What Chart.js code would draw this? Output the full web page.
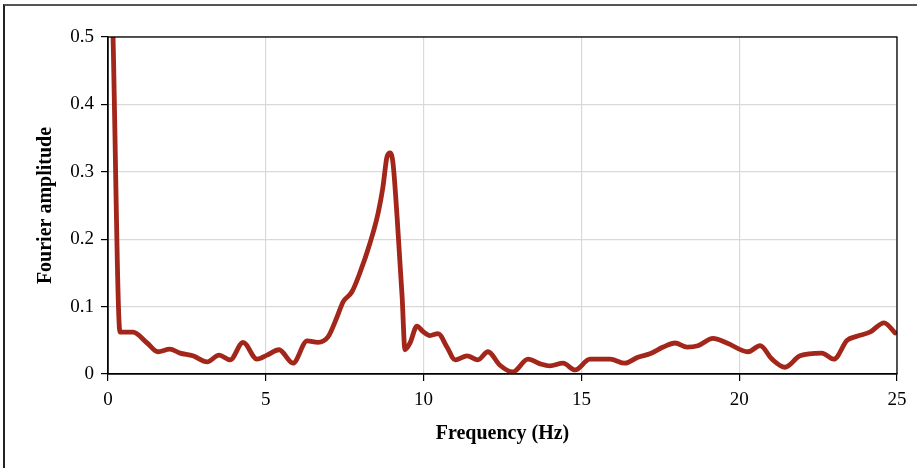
<!DOCTYPE html>
<html>
<head>
<meta charset="utf-8">
<script src="https://cdn.jsdelivr.net/npm/chart.js@4"></script>
<style>
  html, body { margin: 0; padding: 0; background: #fff; }
  #wrap { position: relative; width: 917px; height: 468px; }
  #frame { position: absolute; left: 3px; top: 4px; right: -10px; bottom: -10px;
           border-top: 2px solid #555; border-left: 2px solid #222; pointer-events: none; }
</style>
</head>
<body>
<div id="wrap">
  <canvas id="spectrum" width="917" height="468"></canvas>
  <div id="frame"></div>
</div>
<script>
const freq = [0.16, 0.38, 0.79, 1.24, 1.58, 1.96, 2.28, 2.69, 3.14, 3.52, 3.87, 4.28, 4.72, 5.04, 5.42, 5.86,
  6.31, 6.65, 6.97, 7.26, 7.45, 7.73, 7.98, 8.30, 8.56, 8.71, 8.84, 8.94, 9.03, 9.16, 9.32, 9.41, 9.57,
  9.79, 9.98, 10.2, 10.46, 10.74, 11.0, 11.38, 11.72, 12.04, 12.42, 12.83, 13.31, 13.69, 14.0, 14.42,
  14.8, 15.27, 15.91, 16.38, 16.79, 17.17, 17.59, 17.97, 18.35, 18.69, 19.17, 19.61, 20.28, 20.66,
  21.04, 21.45, 21.93, 22.62, 23.0, 23.42, 23.73, 24.14, 24.59, 24.94];
const amplitude = [0.50, 0.062, 0.062, 0.046, 0.033, 0.037, 0.031, 0.027, 0.018, 0.028, 0.021, 0.047, 0.022, 0.028, 0.036, 0.016,
  0.049, 0.047, 0.055, 0.085, 0.107, 0.122, 0.150, 0.194, 0.239, 0.277, 0.322, 0.328, 0.313, 0.233, 0.114, 0.036, 0.046,
  0.071, 0.063, 0.057, 0.060, 0.040, 0.021, 0.027, 0.021, 0.033, 0.013, 0.003, 0.022, 0.015, 0.012, 0.016,
  0.006, 0.022, 0.022, 0.016, 0.025, 0.030, 0.040, 0.046, 0.040, 0.042, 0.053, 0.046, 0.033, 0.042,
  0.022, 0.010, 0.027, 0.031, 0.022, 0.050, 0.056, 0.062, 0.076, 0.061];
const xTicks = [0, 5, 10, 15, 20, 25];
const yTicks = [0, 0.1, 0.2, 0.3, 0.4, 0.5];

const serif = "'Liberation Serif', 'DejaVu Serif', serif";

// closes the plot box (top and right edges)
const boxBorder = {
  id: 'boxBorder',
  afterDraw(chart) {
    const a = chart.chartArea, ctx = chart.ctx;
    ctx.save();
    ctx.strokeStyle = '#000';
    ctx.lineWidth = 1.3;
    ctx.strokeRect(a.left, a.top, a.right - a.left, a.bottom - a.top);
    ctx.restore();
  }
};

new Chart(document.getElementById('spectrum'), {
  type: 'line',
  data: {
    datasets: [{
      data: freq.map((f, i) => ({ x: f, y: amplitude[i] })),
      borderColor: '#a3261b',
      borderWidth: 4.8,
      pointRadius: 0,
      fill: false,
      cubicInterpolationMode: 'monotone',
      borderCapStyle: 'round',
      borderJoinStyle: 'round'
    }]
  },
  options: {
    responsive: false,
    animation: false,
    layout: { padding: { top: 37, right: 20, left: 0, bottom: 0 } },
    plugins: { legend: { display: false }, tooltip: { enabled: false } },
    scales: {
      x: {
        type: 'linear', min: 0, max: 25,
        afterBuildTicks: s => { s.ticks = xTicks.map(v => ({ value: v })); },
        afterFit: s => { s.height = 94; },
        ticks: { color: '#000', padding: 8, font: { family: serif, size: 19 } },
        grid: { color: '#d9d9d9', lineWidth: 1.2, tickColor: '#000', tickLength: 7 },
        border: { color: '#000', width: 1.3 },
        title: { display: true, text: 'Frequency (Hz)', color: '#000',
                 font: { family: serif, size: 20, weight: 'bold' }, padding: { top: 0, bottom: 22 } }
      },
      y: {
        min: 0, max: 0.5,
        afterBuildTicks: s => { s.ticks = yTicks.map(v => ({ value: v })); },
        afterFit: s => { s.width = 108; },
        ticks: { color: '#000', padding: 7, font: { family: serif, size: 19 } },
        grid: { color: '#d9d9d9', lineWidth: 1.2, tickColor: '#000', tickLength: 7 },
        border: { color: '#000', width: 1.3 },
        title: { display: true, text: 'Fourier amplitude', color: '#000',
                 font: { family: serif, size: 20, weight: 'bold' }, padding: { top: 34, bottom: 0 } }
      }
    }
  },
  plugins: [boxBorder]
});
</script>
</body>
</html>
